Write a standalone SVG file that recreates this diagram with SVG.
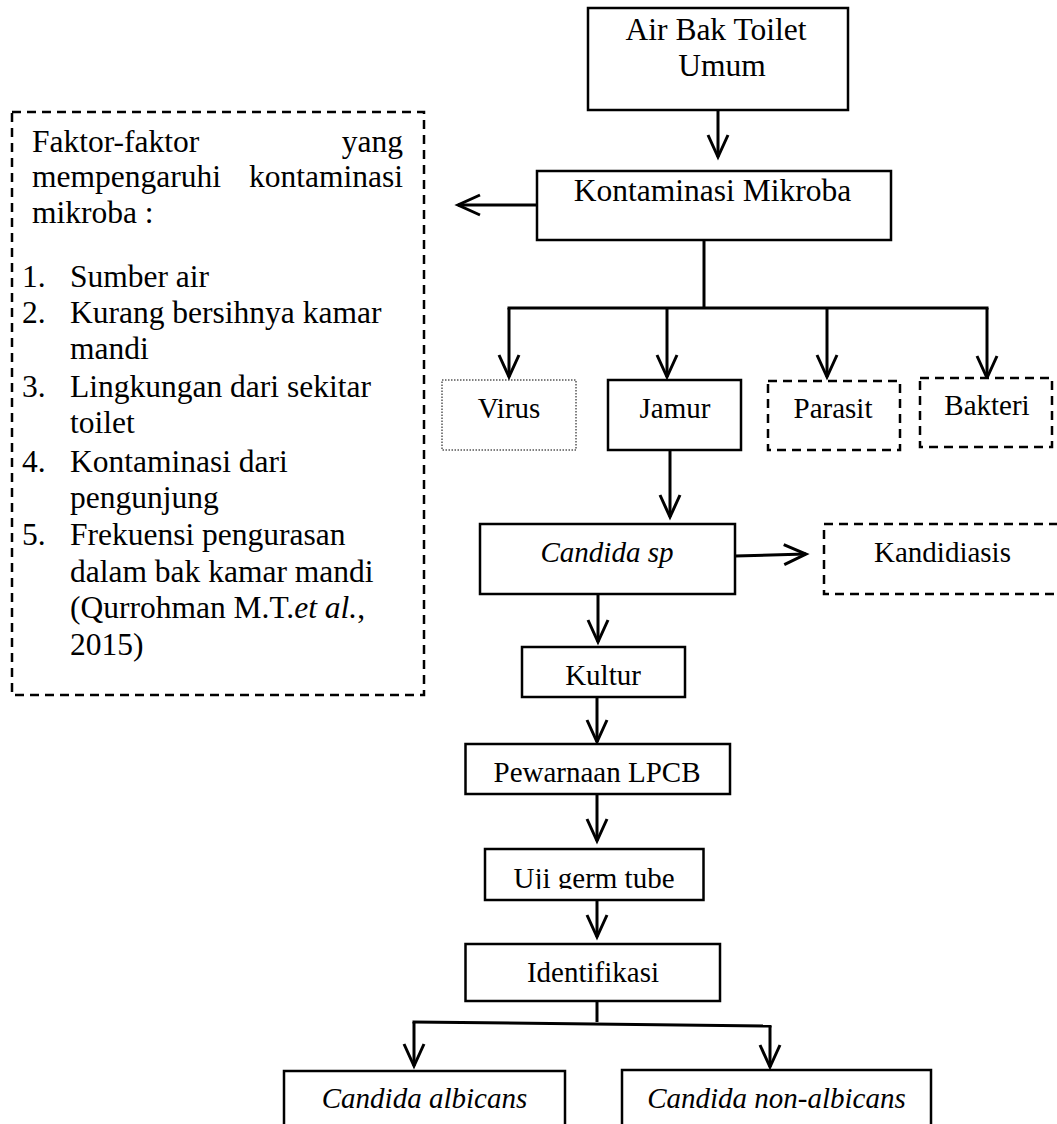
<svg xmlns="http://www.w3.org/2000/svg" width="1057" height="1124" viewBox="0 0 1057 1124">
<style>
text{font-family:"Liberation Serif","Times New Roman",serif;fill:#000}
.big{font-size:31.5px}
.sm{font-size:29px;text-anchor:middle}
.it{font-style:italic}
.box{fill:#fff;stroke:#000;stroke-width:2.5}
.dash{fill:#fff;stroke:#000;stroke-width:2.5;stroke-dasharray:9 6}
.dot{fill:#fff;stroke:#000;stroke-width:1;stroke-dasharray:1.5 1.5}
.con{fill:none;stroke:#000;stroke-width:3}
</style>
<defs>
<marker id="ah" markerUnits="userSpaceOnUse" markerWidth="30" markerHeight="30" refX="0" refY="0" orient="auto" overflow="visible">
<path d="M-22,-10 L0,0 L-22,10" fill="none" stroke="#000" stroke-width="3"/>
</marker>
<clipPath id="ujiclip"><rect x="485" y="849" width="219" height="40"/></clipPath>
</defs>
<g id="connectors">
<line class="con" x1="718" y1="110" x2="718" y2="157" marker-end="url(#ah)"/>
<line class="con" x1="537" y1="205" x2="458" y2="205" marker-end="url(#ah)"/>
<line class="con" x1="704" y1="240" x2="704" y2="308"/>
<line class="con" x1="507.5" y1="308" x2="988.5" y2="308"/>
<line class="con" x1="509" y1="308" x2="509" y2="377" marker-end="url(#ah)"/>
<line class="con" x1="667" y1="308" x2="667" y2="377" marker-end="url(#ah)"/>
<line class="con" x1="827" y1="308" x2="827" y2="377" marker-end="url(#ah)"/>
<line class="con" x1="987" y1="308" x2="987" y2="378" marker-end="url(#ah)"/>
<line class="con" x1="670" y1="450" x2="670" y2="517" marker-end="url(#ah)"/>
<line class="con" x1="735" y1="556" x2="806" y2="554" marker-end="url(#ah)"/>
<line class="con" x1="598" y1="594" x2="598" y2="642" marker-end="url(#ah)"/>
<line class="con" x1="597" y1="697" x2="597" y2="742" marker-end="url(#ah)"/>
<line class="con" x1="597" y1="794" x2="597" y2="841" marker-end="url(#ah)"/>
<line class="con" x1="597" y1="900" x2="597" y2="937" marker-end="url(#ah)"/>
<line class="con" x1="597" y1="1001" x2="597" y2="1022"/>
<line class="con" x1="412.5" y1="1022" x2="771.5" y2="1026"/>
<line class="con" x1="414" y1="1022" x2="414" y2="1066" marker-end="url(#ah)"/>
<line class="con" x1="770" y1="1026" x2="770" y2="1067" marker-end="url(#ah)"/>
</g>
<g id="node-air">
<rect class="box" x="588" y="8" width="260" height="102"/>
<text class="big" x="716" y="40" text-anchor="middle">Air Bak Toilet</text>
<text class="big" x="722" y="76" text-anchor="middle">Umum</text>
</g>
<g id="node-faktor">
<rect class="dash" x="12" y="112" width="412" height="583"/>
<text class="big" x="32" y="152">Faktor-faktor</text>
<text class="big" x="403" y="152" text-anchor="end">yang</text>
<text class="big" x="32" y="187">mempengaruhi</text>
<text class="big" x="403" y="187" text-anchor="end">kontaminasi</text>
<text class="big" x="32" y="223">mikroba :</text>
<text class="big" x="22" y="287">1.</text>
<text class="big" x="70" y="287">Sumber air</text>
<text class="big" x="22" y="323">2.</text>
<text class="big" x="70" y="323">Kurang bersihnya kamar</text>
<text class="big" x="70" y="359">mandi</text>
<text class="big" x="22" y="397">3.</text>
<text class="big" x="70" y="397">Lingkungan dari sekitar</text>
<text class="big" x="70" y="433">toilet</text>
<text class="big" x="22" y="472">4.</text>
<text class="big" x="70" y="472">Kontaminasi dari</text>
<text class="big" x="70" y="508">pengunjung</text>
<text class="big" x="22" y="545">5.</text>
<text class="big" x="70" y="545">Frekuensi pengurasan</text>
<text class="big" x="70" y="582">dalam bak kamar mandi</text>
<text class="big" x="70" y="618">(Qurrohman M.T.<tspan class="it">et al.</tspan>,</text>
<text class="big" x="70" y="655">2015)</text>
</g>
<g id="node-kontaminasi">
<rect class="box" x="537" y="171" width="354" height="69"/>
<text class="big" x="712.5" y="201" text-anchor="middle">Kontaminasi Mikroba</text>
</g>
<g id="node-virus">
<rect class="dot" x="442" y="380" width="134" height="70"/>
<text class="sm" x="509" y="418">Virus</text>
</g>
<g id="node-jamur">
<rect class="box" x="608" y="380" width="133" height="70"/>
<text class="sm" x="675" y="418">Jamur</text>
</g>
<g id="node-parasit">
<rect class="dash" x="768" y="381" width="132" height="69"/>
<text class="sm" x="833" y="418">Parasit</text>
</g>
<g id="node-bakteri">
<rect class="dash" x="920" y="378" width="132" height="69"/>
<text class="sm" x="987" y="415">Bakteri</text>
</g>
<g id="node-candida-sp">
<rect class="box" x="480" y="524" width="255" height="70"/>
<text class="sm it" x="607" y="562">Candida sp</text>
</g>
<g id="node-kandidiasis">
<rect class="dash" x="824" y="524" width="245" height="70"/>
<text class="sm" x="942.5" y="562">Kandidiasis</text>
</g>
<g id="node-kultur">
<rect class="box" x="522" y="647" width="163" height="50"/>
<text class="sm" x="603" y="685">Kultur</text>
</g>
<g id="node-pewarnaan">
<rect class="box" x="465.5" y="744" width="264.5" height="50"/>
<text class="sm" x="597" y="782">Pewarnaan LPCB</text>
</g>
<g id="node-uji">
<rect class="box" x="485" y="849" width="218.5" height="51"/>
<text class="sm" x="594" y="888" clip-path="url(#ujiclip)">Uji germ tube</text>
</g>
<g id="node-identifikasi">
<rect class="box" x="465.5" y="944" width="254.5" height="57"/>
<text class="sm" x="593" y="982">Identifikasi</text>
</g>
<g id="node-albicans">
<rect class="box" x="284" y="1071" width="281" height="70"/>
<text class="sm it" x="424.5" y="1108">Candida albicans</text>
</g>
<g id="node-nonalbicans">
<rect class="box" x="622" y="1070" width="309" height="70"/>
<text class="sm it" x="776.5" y="1108">Candida non-albicans</text>
</g>
</svg>
